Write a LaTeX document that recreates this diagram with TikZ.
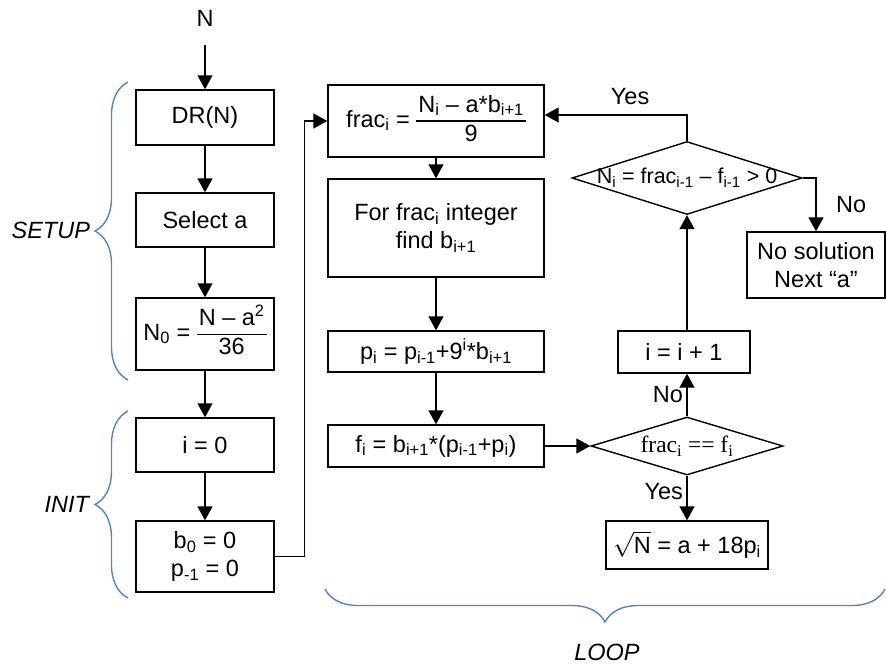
\documentclass[tikz,border=0pt]{standalone}
\usepackage{fontspec}
\setmainfont{Liberation Sans}
\newfontfamily\timesfont{Liberation Serif}
\usetikzlibrary{shapes.geometric,arrows.meta,decorations.pathreplacing}
\definecolor{braceblue}{RGB}{84,130,196}
\newcommand\lo[1]{\textsubscript{#1}}
\newcommand\hi[1]{\textsuperscript{#1}}
\newcommand\ratio[2]{{\setlength{\arrayrulewidth}{1.2pt}\begin{tabular}{@{\hspace{2pt}}c@{\hspace{2pt}}}#1\\\hline #2\end{tabular}}}

\begin{document}
\begin{tikzpicture}[x=1pt,y=-1pt,>={Triangle[length=14pt,width=15pt]},line width=1.4pt,font=\fontsize{23.5}{28}\selectfont]
        \tikzset{box/.style={draw, minimum width=138pt, minimum height=54pt, align=center, inner sep=2pt},
                 dec/.style={draw, diamond, inner sep=0pt},
                 tag/.style={font=\fontsize{23.5}{28}\selectfont\itshape},
                 curly/.style={draw=braceblue, line width=1.4pt, decorate, decoration={brace, amplitude=33pt}}}
        \useasboundingbox (0,0) rectangle (886,665);
        % setup and init column
        \node (nin) at (205,18) {N};
        \node[box, minimum height=55pt] (dr) at (205,117.5) {DR(N)};
        \node[box] (sel) at (205,220) {Select a};
        \node[box, minimum height=72pt] (nzero) at (205,334) {N\lo{0} = \ratio{N – a\hi{2}}{36}};
        \node[box] (izero) at (205,445) {i = 0};
        \node[box, minimum height=71pt] (bzero) at (205,556.5) {b\lo{0} = 0\\p\lo{-1} = 0};
        % loop body
        \node[box, minimum width=216pt, minimum height=72pt] (frac) at (436,121) {frac\lo{i} = \ratio{N\lo{i} – a*b\lo{i+1}}{9}};
        \node[box, minimum width=216pt, minimum height=98pt] (find) at (436,228) {For frac\lo{i} integer\\find b\lo{i+1}};
        \node[box, minimum width=216pt, minimum height=41pt] (pnext) at (436,351.5) {p\lo{i} = p\lo{i-1}+9\hi{i}*b\lo{i+1}};
        \node[box, minimum width=216pt, minimum height=42pt] (fnext) at (436,446) {f\lo{i} = b\lo{i+1}*(p\lo{i-1}+p\lo{i})};
        % tests
        \node[dec, minimum width=230pt, minimum height=73pt, font=\fontsize{21.5}{26}\selectfont] (chk) at (687,178) {\makebox[0pt]{N\lo{i} = frac\lo{i-1} – f\lo{i-1} > 0}};
        \node[box, minimum height=66pt] (nosol) at (816,265) {No solution\\Next “a”};
        \node[box, minimum width=132pt, minimum height=42pt] (incr) at (684,352) {i = i + 1};
        \node[dec, minimum width=192pt, minimum height=58pt] (cmp) at (687,446) {\makebox[0pt]{\timesfont frac\lo{i} == f\lo{i}}};
        \node[box, minimum width=162pt, minimum height=48pt] (root) at (687,545) {$\sqrt{\mbox{N}}$ = a + 18p\lo{i}};
        \draw[->, shorten <=15pt] (nin) -- (dr);
        \draw[->] (dr) -- (sel);
        \draw[->] (sel) -- (nzero);
        \draw[->] (nzero) -- (izero);
        \draw[->] (izero) -- (bzero);
        \draw[->] (bzero.east) -- ++(30,0) |- (frac.west);
        \draw[->] (frac) -- (find);
        \draw[->] (find) -- (pnext);
        \draw[->] (pnext) -- (fnext);
        \draw[->] (fnext) -- (cmp);
        \draw[->] (cmp) -- node[left] {No} (cmp |- incr.south);
        \draw[->] (cmp) -- node[left, pos=0.35] {Yes} (root);
        \draw[->] (incr.north -| chk) -- (chk);
        \draw[->] (chk.north) |- node[pos=0.7, above=6pt] {Yes} ([yshift=6pt]frac.east);
        \draw[->] (chk.east) -| node[pos=0.75, right=16pt] {No} (nosol.north);
        % braces
        \draw[curly] (128,380) -- (128,82);
        \node[tag, anchor=east] (setup) at (94,230) {SETUP};
        \draw[curly] (128,598) -- (128,411);
        \node[tag, anchor=east] (init) at (93,504) {INIT};
        \draw[curly] (885,589) -- (325,589);
        \node[tag] (loop) at (607,652) {LOOP};
\end{tikzpicture}
\end{document}
